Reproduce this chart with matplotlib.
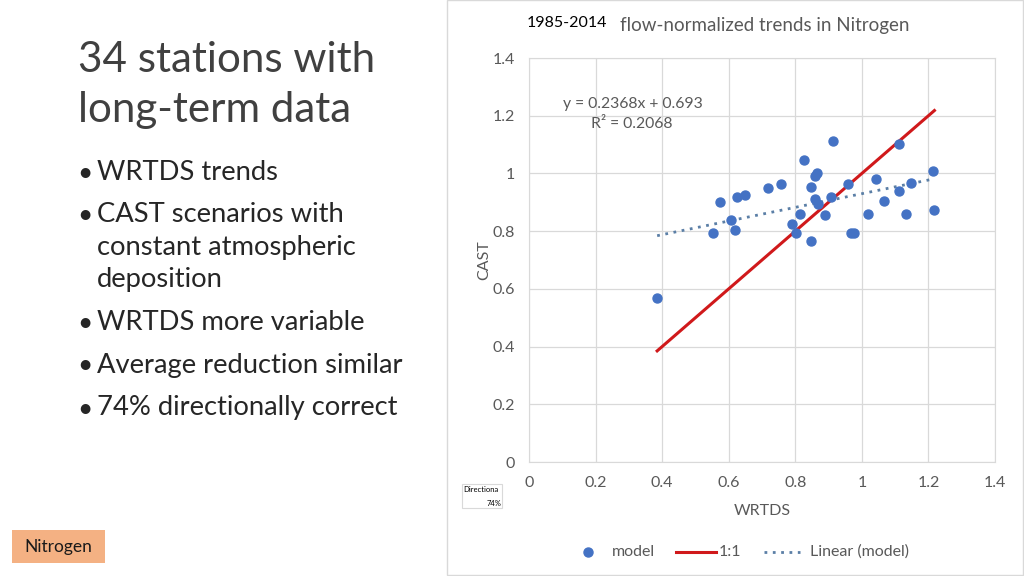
import numpy as np
import matplotlib.pyplot as plt
from matplotlib.patches import Rectangle
from matplotlib.lines import Line2D

plt.rcParams['font.family'] = ['Lato', 'DejaVu Sans']

# WRTDS vs CAST flow-normalized trend ratios
wrtds = [0.385, 0.553, 0.575, 0.608, 0.619, 0.626, 0.649, 0.717, 0.756, 0.790,
         0.801, 0.813, 0.826, 0.847, 0.847, 0.858, 0.866, 0.859, 0.869, 0.890,
         0.906, 0.913, 0.958, 0.968, 0.977, 1.017, 1.041, 1.067, 1.113, 1.113,
         1.133, 1.147, 1.215, 1.218]
cast = [0.568, 0.795, 0.902, 0.838, 0.804, 0.918, 0.925, 0.948, 0.965, 0.825,
        0.795, 0.861, 1.048, 0.952, 0.765, 0.992, 1.003, 0.911, 0.893, 0.855,
        0.917, 1.111, 0.964, 0.795, 0.795, 0.861, 0.981, 0.906, 1.102, 0.939,
        0.861, 0.968, 1.008, 0.874]
slope, intercept = 0.2368, 0.693
r2 = 0.2068

ticks = [0, 0.2, 0.4, 0.6, 0.8, 1, 1.2, 1.4]
tick_labels = ['0', '0.2', '0.4', '0.6', '0.8', '1', '1.2', '1.4']

title_lines = ['34 stations with', 'long-term data']
bullets = [['WRTDS trends'],
           ['CAST scenarios with', 'constant atmospheric', 'deposition'],
           ['WRTDS more variable'],
           ['Average reduction similar'],
           ['74% directionally correct']]
bullet_y = [172, 215, 322, 365, 408]

grey = '#595959'
blue = '#4472c4'
red = '#d0191b'
dotblue = '#5b7fa6'
fig = plt.figure(figsize=(10.24, 5.76), dpi=100)

def fx(px):
    return px / 1024

def fy(py):
    return 1 - py / 576

# chart frame (drawn behind everything)
fig.patches.append(Rectangle((fx(447), fy(575)), fx(576), 575 / 576, transform=fig.transFigure,
                             facecolor='white', edgecolor='#d9d9d9', linewidth=1, zorder=-5))

# left text panel
for line, yy in zip(title_lines, [60, 110]):
    fig.text(fx(78), fy(yy), line, fontsize=30.3, color='#404040', va='center', ha='left')
for lines, yy in zip(bullets, bullet_y):
    fig.text(fx(85), fy(yy + 1), '•', fontsize=19, color='#262626', va='center', ha='center')
    for i, txt in enumerate(lines):
        fig.text(fx(97), fy(yy + 32 * i), txt, fontsize=19.7, color='#262626',
                 va='center', ha='left')

fig.patches.append(Rectangle((fx(12), fy(563)), fx(93), 33 / 576, transform=fig.transFigure,
                             facecolor='#f4b183', edgecolor='none'))
fig.text(fx(58), fy(547), 'Nitrogen', fontsize=12.5, color='#1a1a1a', ha='center', va='center')

ax = fig.add_axes([fx(529), fy(462), fx(466), 404 / 576])
ax.set_zorder(2)
ax.set_xlim(0, 1.4)
ax.set_ylim(0, 1.4)
ax.set_xticks(ticks)
ax.set_yticks(ticks)
ax.set_xticklabels(tick_labels)
ax.set_yticklabels(tick_labels)
ax.grid(True, color='#d9d9d9', linewidth=0.9)
ax.set_axisbelow(True)
for s in ax.spines.values():
    s.set_color('#d9d9d9')
ax.tick_params(length=0, colors=grey, labelsize=11.5, pad=10)

x = np.array(wrtds)
xr = np.array([x.min(), x.max()])
ax.scatter(wrtds, cast, s=42, color=blue, zorder=3)
ax.plot(xr, xr, color=red, linewidth=2.2, zorder=2)
ax.plot(xr, slope * xr + intercept, color=dotblue, linestyle=(0, (1, 2)),
        linewidth=2, zorder=2)

ax.text(0.102, 1.24, f'y = {slope}x + {intercept}', fontsize=11.3, color=grey,
        ha='left', va='center')
ax.text(0.186, 1.171, f'R² = {r2}', fontsize=11.3, color=grey, ha='left', va='center')

ax.set_xlabel('WRTDS', fontsize=11.5, color=grey, labelpad=10)
ax.set_ylabel('CAST', fontsize=11.5, color=grey, labelpad=1)

fig.text(fx(527), fy(23), '1985-2014', fontsize=11.5, color='black', ha='left', va='center')
fig.text(fx(620), fy(25), 'flow-normalized trends in Nitrogen', fontsize=13.5, color=grey,
         ha='left', va='center')

# small directional table
fig.patches.append(Rectangle((fx(462), fy(508)), fx(40), 24 / 576, transform=fig.transFigure,
                             facecolor='white', edgecolor='#d9d9d9', linewidth=0.8))
fig.text(fx(463), fy(490), 'Directiona', fontsize=5.5, color='black', ha='left', va='center')
fig.text(fx(501), fy(503), '74%', fontsize=5.5, color='black', ha='right', va='center')

# legend drawn by hand to match the Excel spacing
ly = fy(552)
fig.add_artist(Line2D([fx(588)], [ly], marker='o', markersize=6.5, color=blue,
                      linestyle='none', transform=fig.transFigure))
fig.text(fx(612), ly, 'model', fontsize=11.5, color=grey, ha='left', va='center')
fig.add_artist(Line2D([fx(676), fx(716)], [ly, ly], color=red, linewidth=2.2,
                      transform=fig.transFigure))
fig.text(fx(719), ly, '1:1', fontsize=11.5, color=grey, ha='left', va='center')
fig.add_artist(Line2D([fx(764), fx(800)], [ly, ly], color=dotblue, linewidth=2,
                      linestyle=(0, (1, 2)), transform=fig.transFigure))
fig.text(fx(810), ly, 'Linear (model)', fontsize=11.5, color=grey, ha='left', va='center')

fig.savefig('out.png', dpi=100)
